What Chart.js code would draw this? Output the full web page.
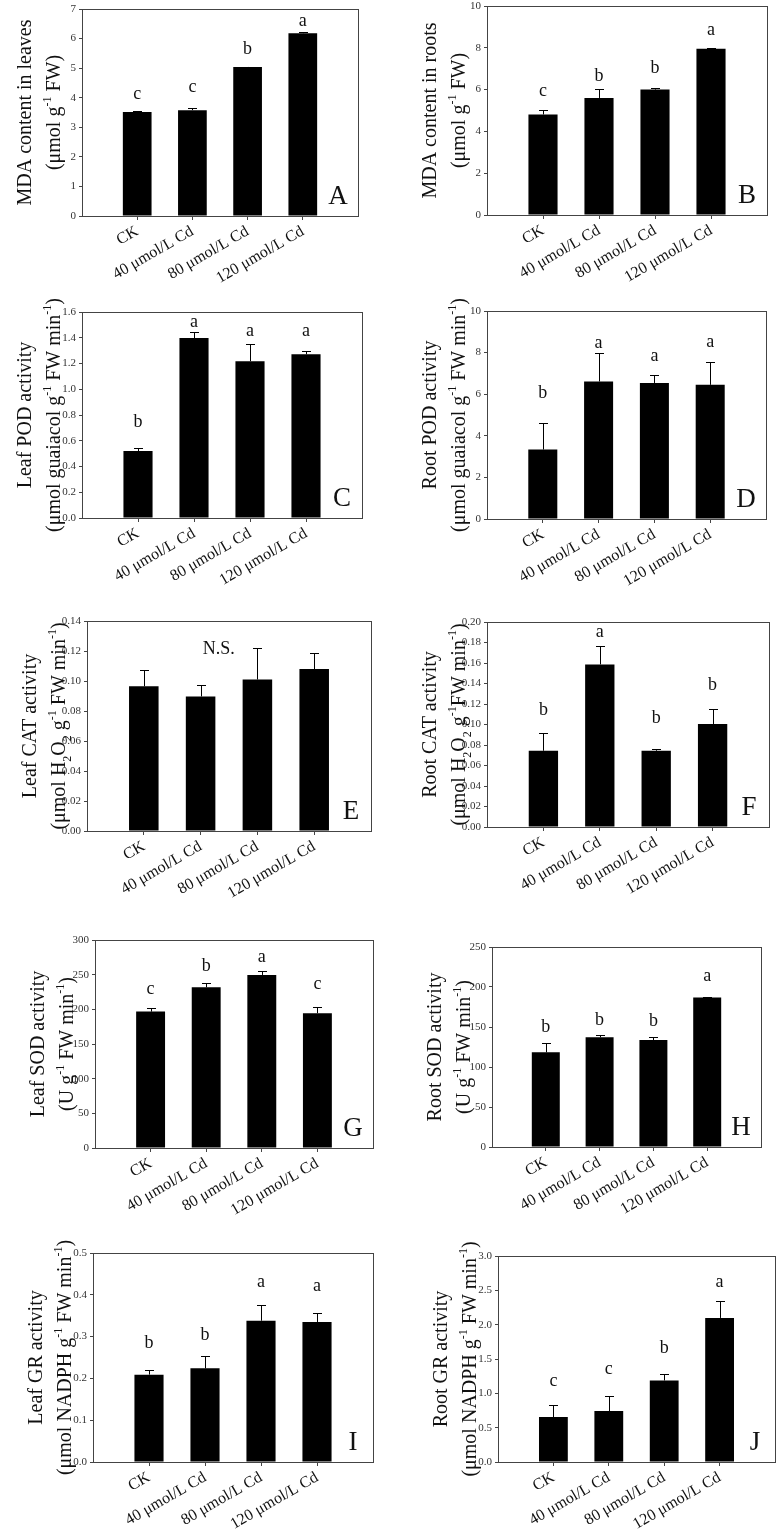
<!DOCTYPE html>
<html>
<head>
<meta charset="utf-8">
<script src="https://cdn.jsdelivr.net/npm/chart.js@4.4.0/dist/chart.umd.min.js"></script>
<style>
html, body { margin: 0; padding: 0; background: #fff; overflow: hidden; }
body { width: 777px; height: 1533px; position: relative; }
canvas { position: absolute; }
</style>
</head>
<body>
<script>
const treatments = ['CK', '40 μmol/L Cd', '80 μmol/L Cd', '120 μmol/L Cd'];

// A - MDA leaves
const mdaLeaf = [3.52, 3.58, 5.04, 6.18];
const mdaLeafErr = [0.03, 0.08, 0.01, 0.05];
const mdaLeafLetters = ['c', 'c', 'b', 'a'];
const mdaLeafLetterY = [3.96, 4.18, 5.48, 6.43];

// B - MDA roots
const mdaRoot = [4.81, 5.60, 6.00, 7.96];
const mdaRootErr = [0.20, 0.45, 0.08, 0.03];
const mdaRootLetters = ['c', 'b', 'b', 'a'];
const mdaRootLetterY = [5.69, 6.40, 6.80, 8.60];

// C - POD leaf
const podLeaf = [0.52, 1.398, 1.218, 1.272];
const podLeafErr = [0.02, 0.045, 0.13, 0.027];
const podLeafLetters = ['b', 'a', 'a', 'a'];
const podLeafLetterY = [0.71, 1.48, 1.41, 1.41];

// D - POD root
const podRoot = [3.34, 6.61, 6.54, 6.45];
const podRootErr = [1.27, 1.36, 0.40, 1.09];
const podRootLetters = ['b', 'a', 'a', 'a'];
const podRootLetterY = [5.81, 8.21, 7.60, 8.26];

// E - CAT leaf
const catLeaf = [0.0965, 0.0897, 0.101, 0.108];
const catLeafErr = [0.011, 0.0077, 0.021, 0.011];
const catLeafLetters = [];
const catLeafLetterY = [];

// F - CAT root
const catRoot = [0.0744, 0.1586, 0.0744, 0.1005];
const catRootErr = [0.0176, 0.0176, 0.002, 0.0143];
const catRootLetters = ['b', 'a', 'b', 'b'];
const catRootLetterY = [0.109, 0.185, 0.101, 0.134];

// G - SOD leaf
const sodLeaf = [196.7, 231.8, 249.6, 194.4];
const sodLeafErr = [5.0, 5.8, 6.2, 8.6];
const sodLeafLetters = ['c', 'b', 'a', 'c'];
const sodLeafLetterY = [221.8, 255.8, 268.7, 229];

// H - SOD root
const sodRoot = [118.4, 137.1, 133.7, 187.0];
const sodRootErr = [12.0, 3.3, 3.4, 0.8];
const sodRootLetters = ['b', 'b', 'b', 'a'];
const sodRootLetterY = [144, 152.4, 151.2, 207.3];

// I - GR leaf
const grLeaf = [0.209, 0.224, 0.338, 0.335];
const grLeafErr = [0.011, 0.030, 0.038, 0.021];
const grLeafLetters = ['b', 'b', 'a', 'a'];
const grLeafLetterY = [0.272, 0.292, 0.419, 0.408];

// J - GR root
const grRoot = [0.654, 0.741, 1.187, 2.098];
const grRootErr = [0.17, 0.227, 0.097, 0.243];
const grRootLetters = ['c', 'c', 'b', 'a'];
const grRootLetterY = [1.114, 1.279, 1.594, 2.544];

const SERIF = '"Liberation Serif", "Times New Roman", serif';

const panels = [
    {tag: 'A', box: [82, 9, 358, 216], vals: mdaLeaf, errs: mdaLeafErr, letters: mdaLeafLetters, letterY: mdaLeafLetterY,
     yMax: 7, step: 1, dec: 0, title: ['MDA content in leaves', '(μmol g^{-1} FW)']},
    {tag: 'B', box: [487, 6, 767, 215], vals: mdaRoot, errs: mdaRootErr, letters: mdaRootLetters, letterY: mdaRootLetterY,
     yMax: 10, step: 2, dec: 0, title: ['MDA content in roots', '(μmol g^{-1} FW)']},
    {tag: 'C', box: [82, 312, 362, 518], vals: podLeaf, errs: podLeafErr, letters: podLeafLetters, letterY: podLeafLetterY,
     yMax: 1.6, step: 0.2, dec: 1, title: ['Leaf POD activity', '(μmol guaiacol g^{-1} FW min^{-1})']},
    {tag: 'D', box: [487, 311, 766, 519], vals: podRoot, errs: podRootErr, letters: podRootLetters, letterY: podRootLetterY,
     yMax: 10, step: 2, dec: 0, title: ['Root POD activity', '(μmol guaiacol g^{-1} FW min^{-1})']},
    {tag: 'E', box: [87, 621, 371, 831], vals: catLeaf, errs: catLeafErr, letters: catLeafLetters, letterY: catLeafLetterY,
     yMax: 0.14, step: 0.02, dec: 2, title: ['Leaf CAT activity', '(μmol H_{2}O_{2} g^{-1} FW min^{-1})'],
     note: {text: 'N.S.', x: 1.32, y: 0.118}},
    {tag: 'F', box: [487, 622, 769, 827], vals: catRoot, errs: catRootErr, letters: catRootLetters, letterY: catRootLetterY,
     yMax: 0.20, step: 0.02, dec: 2, title: ['Root CAT activity', '(μmol H_{2}O_{2} g^{-1}FW min^{-1})']},
    {tag: 'G', box: [95, 940, 373, 1148], vals: sodLeaf, errs: sodLeafErr, letters: sodLeafLetters, letterY: sodLeafLetterY,
     yMax: 300, step: 50, dec: 0, title: ['Leaf SOD activity', '(U g^{-1} FW min^{-1})']},
    {tag: 'H', box: [492, 947, 761, 1147], vals: sodRoot, errs: sodRootErr, letters: sodRootLetters, letterY: sodRootLetterY,
     yMax: 250, step: 50, dec: 0, title: ['Root SOD activity', '(U g^{-1} FW min^{-1})']},
    {tag: 'I', box: [93, 1253, 373, 1462], vals: grLeaf, errs: grLeafErr, letters: grLeafLetters, letterY: grLeafLetterY,
     yMax: 0.5, step: 0.1, dec: 1, title: ['Leaf GR activity', '(μmol NADPH g^{-1} FW min^{-1})']},
    {tag: 'J', box: [498, 1256, 775, 1462], vals: grRoot, errs: grRootErr, letters: grRootLetters, letterY: grRootLetterY,
     yMax: 3.0, step: 0.5, dec: 1, title: ['Root GR activity', '(μmol NADPH g^{-1} FW min^{-1})']},
];

// canvas margins around the plot box
const M_L = 82, M_T = 22, M_R = 4, M_B = 112;
const AXIS_W = 36, AXIS_H = 104;

// split "g^{-1}" / "H_{2}" into normal, sup and sub pieces
function richParts(str) {
    const out = [];
    const re = /([\^_])\{([^}]*)\}/g;
    let last = 0, m;
    while ((m = re.exec(str))) {
        if (m.index > last) out.push({t: str.slice(last, m.index), k: 'n'});
        out.push({t: m[2], k: m[1] === '^' ? 'sup' : 'sub'});
        last = re.lastIndex;
    }
    if (last < str.length) out.push({t: str.slice(last), k: 'n'});
    return out;
}

// vertical text, reading bottom to top, centred on cy, baseline at bx
function drawVertical(ctx, str, bx, cy, size) {
    const parts = richParts(str);
    const small = Math.round(size * 0.62);
    let total = 0;
    parts.forEach(p => {
        ctx.font = `${p.k === 'n' ? size : small}px ${SERIF}`;
        p.w = ctx.measureText(p.t).width;
        total += p.w;
    });
    ctx.save();
    ctx.translate(bx, cy);
    ctx.rotate(-Math.PI / 2);
    ctx.textBaseline = 'alphabetic';
    ctx.textAlign = 'left';
    ctx.fillStyle = '#111';
    let x = -total / 2;
    parts.forEach(p => {
        ctx.font = `${p.k === 'n' ? size : small}px ${SERIF}`;
        const dy = p.k === 'sup' ? -size * 0.45 : (p.k === 'sub' ? size * 0.3 : 0);
        ctx.fillText(p.t, x, dy);
        x += p.w;
    });
    ctx.restore();
}

const decorations = {
    id: 'decorations',
    afterDatasetsDraw(chart, args, opts) {
        const p = opts.panel;
        const ctx = chart.ctx;
        const xs = chart.scales.x, ys = chart.scales.y;
        const area = chart.chartArea;

        // error bars (upper half only)
        ctx.save();
        ctx.strokeStyle = '#000';
        ctx.lineWidth = 1;
        p.vals.forEach((v, i) => {
            const x = Math.round(xs.getPixelForValue(i)) + 0.5;
            const y0 = ys.getPixelForValue(v);
            const y1 = Math.round(ys.getPixelForValue(v + p.errs[i])) + 0.5;
            ctx.beginPath();
            ctx.moveTo(x, y0);
            ctx.lineTo(x, y1);
            ctx.moveTo(x - 4.5, y1);
            ctx.lineTo(x + 4.5, y1);
            ctx.stroke();
        });
        ctx.restore();

        // frame
        ctx.save();
        ctx.strokeStyle = '#444';
        ctx.lineWidth = 1;
        ctx.strokeRect(Math.round(area.left) + 0.5, Math.round(area.top) + 0.5,
            Math.round(area.right - area.left), Math.round(area.bottom - area.top));
        ctx.restore();

        // significance letters
        ctx.save();
        ctx.fillStyle = '#111';
        ctx.textAlign = 'center';
        ctx.textBaseline = 'alphabetic';
        ctx.font = `18px ${SERIF}`;
        p.letters.forEach((l, i) => {
            ctx.fillText(l, xs.getPixelForValue(i), ys.getPixelForValue(p.letterY[i]));
        });
        if (p.note) {
            ctx.fillText(p.note.text, xs.getPixelForValue(p.note.x), ys.getPixelForValue(p.note.y));
        }
        // panel tag
        ctx.font = `27px ${SERIF}`;
        ctx.fillText(p.tag, area.right - 20, area.bottom - 12);
        ctx.restore();

        // y title, two lines
        const cy = (area.top + area.bottom) / 2;
        drawVertical(ctx, p.title[0], area.left - 51, cy, 20);
        drawVertical(ctx, p.title[1], area.left - 22, cy, 20);
    }
};

panels.forEach(p => {
    const [l, t, r, b] = p.box;
    const canvas = document.createElement('canvas');
    const w = (r - l) + M_L + M_R;
    const h = (b - t) + M_T + M_B;
    canvas.width = w;
    canvas.height = h;
    canvas.style.left = (l - M_L) + 'px';
    canvas.style.top = (t - M_T) + 'px';
    canvas.style.width = w + 'px';
    canvas.style.height = h + 'px';
    document.body.appendChild(canvas);

    new Chart(canvas, {
        type: 'bar',
        data: {
            datasets: [{
                data: p.vals.map((v, i) => ({x: i, y: v})),
                backgroundColor: '#000',
                borderColor: '#000',
                borderWidth: 0,
                barPercentage: 0.52,
                categoryPercentage: 1,
            }]
        },
        options: {
            responsive: false,
            animation: false,
            devicePixelRatio: 1,
            events: [],
            layout: {
                padding: {left: M_L - AXIS_W, top: M_T, right: M_R, bottom: M_B - AXIS_H}
            },
            scales: {
                x: {
                    type: 'linear',
                    min: -1,
                    max: 4,
                    offset: false,
                    afterFit: (scale) => {
                        scale.height = AXIS_H;
                        scale.paddingLeft = 0;
                        scale.paddingRight = 0;
                    },
                    border: {display: false},
                    grid: {
                        offset: false,
                        drawOnChartArea: false,
                        drawTicks: true,
                        tickLength: 4,
                        color: (ctx) => (ctx.tick && (ctx.tick.value < 0 || ctx.tick.value > 3)) ? 'rgba(0,0,0,0)' : '#444',
                    },
                    ticks: {
                        stepSize: 1,
                        autoSkip: false,
                        minRotation: 30,
                        maxRotation: 30,
                        padding: 2,
                        color: '#111',
                        font: {family: SERIF, size: 16},
                        callback: (v) => treatments[v] || '',
                    }
                },
                y: {
                    min: 0,
                    max: p.yMax,
                    afterFit: (scale) => {
                        scale.width = AXIS_W;
                        scale.paddingTop = 0;
                        scale.paddingBottom = 0;
                    },
                    border: {display: false},
                    grid: {
                        drawOnChartArea: false,
                        drawTicks: true,
                        tickLength: 3,
                        color: '#444',
                    },
                    ticks: {
                        stepSize: p.step,
                        padding: 3,
                        color: '#333',
                        font: {family: SERIF, size: 11},
                        callback: (v) => Number(v).toFixed(p.dec),
                    }
                }
            },
            plugins: {
                legend: {display: false},
                tooltip: {enabled: false},
                decorations: {panel: p},
            }
        },
        plugins: [decorations]
    });
});
</script>
</body>
</html>
